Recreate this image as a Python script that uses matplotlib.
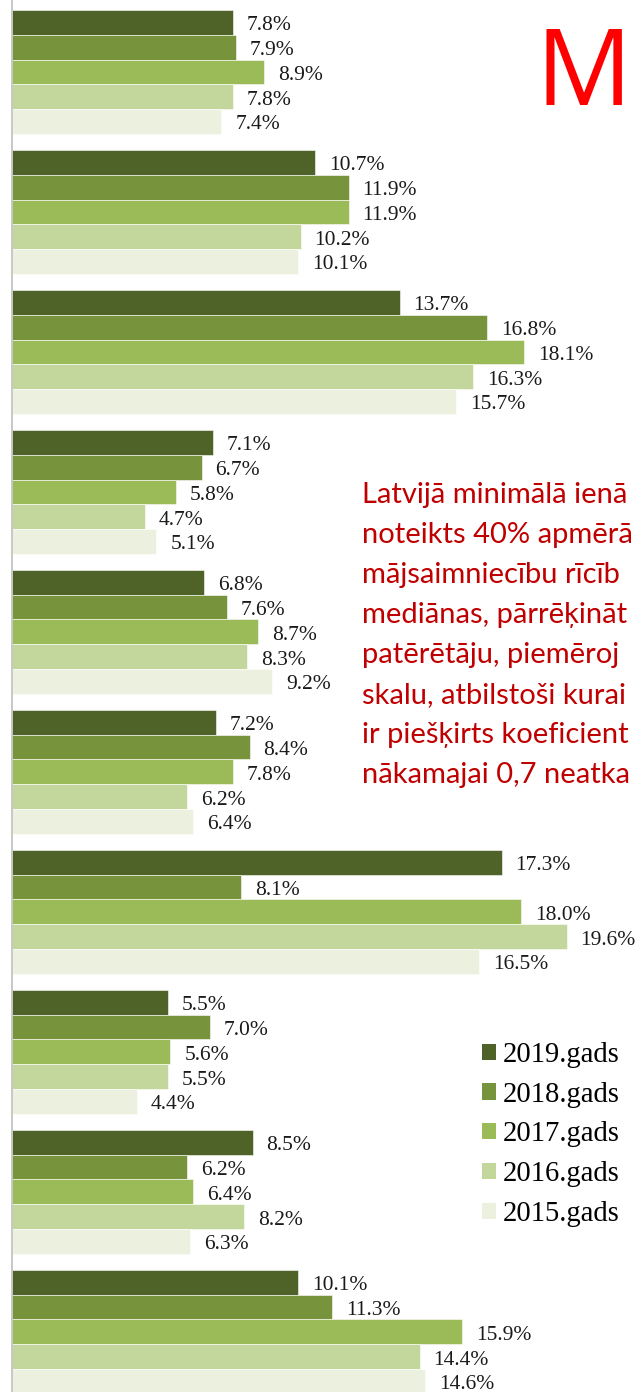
import numpy as np
import matplotlib
matplotlib.use("Agg")
import matplotlib.pyplot as plt
from matplotlib.patches import Patch

# years, top bar of each group first
years = ["2019.gads", "2018.gads", "2017.gads", "2016.gads", "2015.gads"]
colors = ["#4F6228", "#77933C", "#9BBB59", "#C3D69B", "#EBF1DE"]

# one row per group (top to bottom), one column per year
values = [
    [7.8, 7.9, 8.9, 7.8, 7.4],
    [10.7, 11.9, 11.9, 10.2, 10.1],
    [13.7, 16.8, 18.1, 16.3, 15.7],
    [7.1, 6.7, 5.8, 4.7, 5.1],
    [6.8, 7.6, 8.7, 8.3, 9.2],
    [7.2, 8.4, 7.8, 6.2, 6.4],
    [17.3, 8.1, 18.0, 19.6, 16.5],
    [5.5, 7.0, 5.6, 5.5, 4.4],
    [8.5, 6.2, 6.4, 8.2, 6.3],
    [10.1, 11.3, 15.9, 14.4, 14.6],
]

# the note is cut off at the right edge in the source picture
note_lines = [
    "Latvijā minimālā ienā",
    "noteikts 40% apmērā",
    "mājsaimniecību rīcīb",
    "mediānas, pārrēķināt",
    "patērētāju, piemēroj",
    "skalu, atbilstoši kurai",
    "ir piešķirts koeficient",
    "nākamajai 0,7 neatka",
]

W, H = 638, 1392
fig = plt.figure(figsize=(W / 100, H / 100), dpi=100)
ax = fig.add_axes([12 / W, 0, 1 - 12 / W, 1])

data = np.array(values)
groups = np.arange(len(values))
bh = 0.177

for j, (yr, c) in enumerate(zip(years, colors)):
    ypos = groups + (j - 2) * bh
    ax.barh(ypos, data[:, j], height=bh, color=c,
            edgecolor="white", linewidth=0.4, label=yr)
    for y, v in zip(ypos, data[:, j]):
        ax.annotate(f"{v:.1f}%", (v, y), xytext=(10, -2.5),
                    textcoords="offset points", va="center", ha="left",
                    fontsize=15.5, family="Liberation Serif", color="#1a1a1a")

ax.set_xlim(0, 626 / 28.3)
ax.set_ylim(9.43, -0.514)
ax.set_xticks([])
ax.set_yticks([])
for s in ["top", "right", "bottom"]:
    ax.spines[s].set_visible(False)
ax.spines["left"].set_color("#BFBFBF")
ax.spines["left"].set_linewidth(1.2)

handles = [Patch(facecolor=c, edgecolor="none") for c in colors]
fig.legend(handles, years, loc="upper left",
           bbox_to_anchor=(482 / W, 1 - 1042 / H), frameon=False,
           prop={"family": "Liberation Serif", "size": 20.6},
           handlelength=0.5, handleheight=0.5, handletextpad=0.22,
           labelspacing=0.48, borderpad=0, borderaxespad=0)

for k, line in enumerate(note_lines):
    fig.text(362 / W, 1 - (503 + 40 * k) / H, line, color="#C00000",
             fontsize=21, family="Lato", va="baseline", ha="left")

fig.text(535 / W, 1 - 105 / H, "M", color="#FF0000", fontsize=77,
         family="Open Sans", va="baseline", ha="left")

fig.savefig("out.png", dpi=100)
